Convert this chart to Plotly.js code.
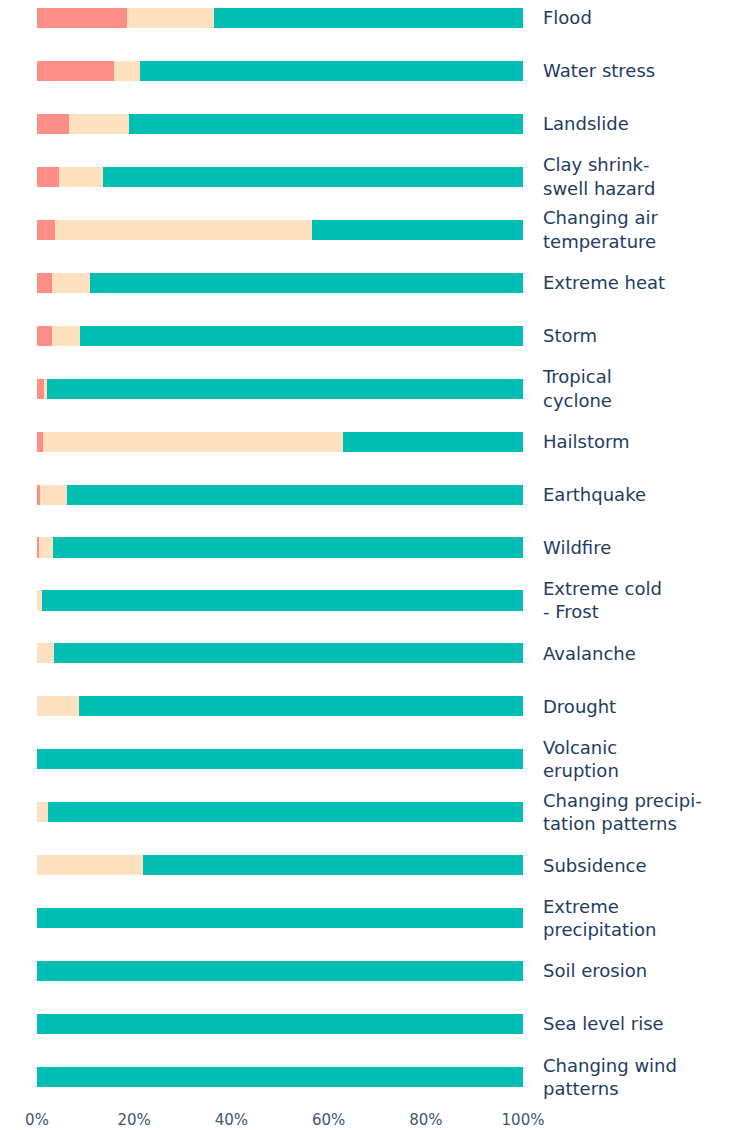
<!DOCTYPE html>
<html>
<head>
<meta charset="utf-8">
<script src="https://cdn.plot.ly/plotly-3.0.1.min.js"></script>
<style>html,body{margin:0;padding:0;background:#fff;}#chart{width:735px;height:1130px;}</style>
</head>
<body>
<div id="chart"></div>
<script>
const categories = [
  "Flood", "Water stress", "Landslide", "Clay shrink-<br>swell hazard",
  "Changing air<br>temperature", "Extreme heat", "Storm", "Tropical<br>cyclone",
  "Hailstorm", "Earthquake", "Wildfire", "Extreme cold<br>- Frost", "Avalanche",
  "Drought", "Volcanic<br>eruption", "Changing precipi-<br>tation patterns",
  "Subsidence", "Extreme<br>precipitation", "Soil erosion", "Sea level rise",
  "Changing wind<br>patterns"
];
const highShare   = [18.5, 15.8, 6.6, 4.6, 3.8, 3.1, 3.1, 1.4, 1.3, 0.7, 0.4, 0, 0, 0, 0, 0, 0, 0, 0, 0, 0];
const mediumShare = [17.9, 5.4, 12.3, 8.9, 52.7, 7.9, 5.7, 0.7, 61.7, 5.5, 2.9, 1.0, 3.4, 8.7, 0, 2.2, 21.9, 0, 0, 0, 0];
const lowShare    = [63.6, 78.8, 81.1, 86.5, 43.5, 89.0, 91.2, 97.9, 37.0, 93.8, 96.7, 99.0, 96.6, 91.3, 100, 97.8, 78.1, 100, 100, 100, 100];
const xTicks = [0, 20, 40, 60, 80, 100];

const colors = ["#FC8D87", "#FEE1C1", "#00BEB2"];
const seriesList = [highShare, mediumShare, lowShare];
const traces = seriesList.map((vals, i) => ({
  type: "bar",
  orientation: "h",
  y: categories,
  x: vals,
  marker: {color: colors[i], line: {width: 0}},
  hoverinfo: "x+y",
  showlegend: false
}));

const textColor = "#1E3D5F";
const layout = {
  width: 735, height: 1130,
  margin: {l: 37, r: 212, t: 0, b: 30},
  barmode: "stack",
  bargap: 0.62,
  paper_bgcolor: "#fff", plot_bgcolor: "#fff",
  font: {family: "DejaVu Sans, sans-serif", color: textColor},
  xaxis: {
    range: [0, 100], tickvals: xTicks, ticktext: xTicks.map(v => v + "%"),
    showgrid: false, zeroline: false, showline: false, ticks: "",
    ticklabelstandoff: 9,
    tickfont: {size: 15, color: "#3A5878"}, fixedrange: true
  },
  yaxis: {
    type: "category", range: [20.434, -0.34], side: "right",
    showgrid: false, zeroline: false, showline: false, ticks: "",
    ticklabelstandoff: 19,
    tickfont: {size: 18, color: textColor}, fixedrange: true
  }
};
Plotly.newPlot("chart", traces, layout, {displayModeBar: false, staticPlot: true});
</script>
</body>
</html>
